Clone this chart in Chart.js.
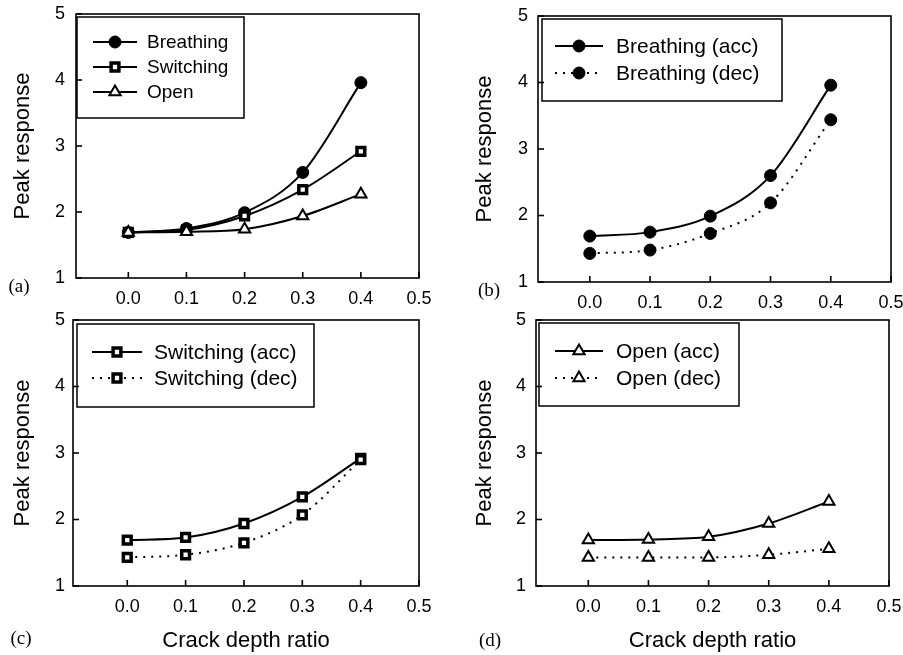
<!DOCTYPE html>
<html><head><meta charset="utf-8">
<script src="https://cdn.jsdelivr.net/npm/chart.js@4"></script>
<style>
html,body{margin:0;padding:0;background:#fff;}
#wrap{position:relative;width:903px;height:655px;overflow:hidden;background:#fff;}
canvas{position:absolute;}
</style></head><body><div id="wrap">
<canvas id="ca"></canvas><canvas id="cb"></canvas><canvas id="cc"></canvas><canvas id="cd"></canvas>
</div>
<script>
// ---- data ----
const crackRatio   = [0.0, 0.1, 0.2, 0.3, 0.4];
const xTickValues  = [0.0, 0.1, 0.2, 0.3, 0.4, 0.5];
const yTickValues  = [1, 2, 3, 4, 5];
const breathingAcc = [1.69, 1.75, 1.99, 2.60, 3.96];
const switchingAcc = [1.69, 1.73, 1.94, 2.34, 2.92];
const openAcc      = [1.69, 1.70, 1.74, 1.94, 2.27];
const breathingDec = [1.43, 1.48, 1.73, 2.19, 3.44];
const switchingDec = [1.43, 1.47, 1.65, 2.07, 2.90];
const openDec      = [1.43, 1.43, 1.43, 1.47, 1.56];
const xAxisTitle = 'Crack depth ratio';
const yAxisTitle = 'Peak response';

const SANS = '"Liberation Sans", Arial, sans-serif';
const SERIF = '"Liberation Serif", "Times New Roman", serif';

const markerStyles = {
  circle:   {pointStyle:'circle',   radius:6,   borderWidth:1,   bg:'#000'},
  rect:     {pointStyle:'rect',     radius:5.5, borderWidth:3.5, bg:'#fff'},
  triangle: {pointStyle:'triangle', radius:6.5, borderWidth:2,   bg:'#fff'}
};

const panels = [
  {id:'ca', label:'(a)', cx:0, cy:-15, cw:451, ch:330, plot:[76,14,419,278], xMin:-0.09, xTitle:false, yTitleX:23, yPad:11,
   legend:{box:[77,17,244,118], rows:[42,67,92], sample:[93,137], textX:147, font:19}, labelPos:[19,287],
   series:[{name:'Breathing', data:breathingAcc, m:'circle', dash:false},
           {name:'Switching', data:switchingAcc, m:'rect', dash:false},
           {name:'Open', data:openAcc, m:'triangle', dash:false}]},
  {id:'cb', label:'(b)', cx:451, cy:-15, cw:470, ch:330, plot:[538,16,891,282], xMin:-0.086, xTitle:false, yTitleX:485, yPad:10,
   legend:{box:[542,19,782,101], rows:[46,73], sample:[555,603], textX:616, font:21}, labelPos:[489,291],
   series:[{name:'Breathing (acc)', data:breathingAcc, m:'circle', dash:false},
           {name:'Breathing (dec)', data:breathingDec, m:'circle', dash:true}]},
  {id:'cc', label:'(c)', cx:0, cy:288, cw:451, ch:367, plot:[73,320,419,586], xMin:-0.093, xTitle:true, yTitleX:23, yPad:8,
   legend:{box:[77,324,314,407], rows:[352,378], sample:[92,142], textX:154, font:21}, labelPos:[21,639],
   series:[{name:'Switching (acc)', data:switchingAcc, m:'rect', dash:false},
           {name:'Switching (dec)', data:switchingDec, m:'rect', dash:true}]},
  {id:'cd', label:'(d)', cx:451, cy:288, cw:470, ch:367, plot:[536,320,889,586], xMin:-0.087, xTitle:true, yTitleX:485, yPad:10,
   legend:{box:[539,323,739,406], rows:[351,378], sample:[555,603], textX:616, font:21}, labelPos:[490,641],
   series:[{name:'Open (acc)', data:openAcc, m:'triangle', dash:false},
           {name:'Open (dec)', data:openDec, m:'triangle', dash:true}]}
];

const DASH = [2,6];

function drawMarker(ctx, m, x, y){
  const s = markerStyles[m];
  ctx.save();
  ctx.fillStyle = s.bg; ctx.strokeStyle = '#000'; ctx.lineWidth = s.borderWidth; ctx.setLineDash([]);
  Chart.helpers.drawPoint(ctx, {pointStyle:s.pointStyle, radius:s.radius, borderWidth:s.borderWidth, rotation:0}, x, y);
  ctx.restore();
}

const decor = {
  id:'decor',
  afterDraw(chart, args, opts){
    const p = opts.panel, ctx = chart.ctx, a = chart.chartArea;
    const xs = chart.scales.x, ys = chart.scales.y;
    ctx.save();
    ctx.strokeStyle = '#000'; ctx.lineWidth = 1.6; ctx.setLineDash([]);
    ctx.strokeRect(a.left, a.top, a.right - a.left, a.bottom - a.top);
    yTickValues.forEach(v => { const y = ys.getPixelForValue(v); ctx.beginPath(); ctx.moveTo(a.left, y); ctx.lineTo(a.left + 6, y); ctx.stroke(); });
    xTickValues.forEach(v => { const x = xs.getPixelForValue(v); ctx.beginPath(); ctx.moveTo(x, a.bottom); ctx.lineTo(x, a.bottom - 6); ctx.stroke(); });
    // legend
    const L = p.legend, ox = p.cx, oy = p.cy;
    ctx.lineWidth = 1.5;
    ctx.strokeRect(L.box[0]-ox, L.box[1]-oy, L.box[2]-L.box[0], L.box[3]-L.box[1]);
    ctx.font = L.font + 'px ' + SANS; ctx.fillStyle = '#000'; ctx.textBaseline = 'middle'; ctx.textAlign = 'left';
    p.series.forEach((s, i) => {
      const y = L.rows[i] - oy, x1 = L.sample[0] - ox, x2 = L.sample[1] - ox;
      ctx.save(); ctx.lineWidth = 2; ctx.setLineDash(s.dash ? DASH : []);
      ctx.beginPath(); ctx.moveTo(x1, y); ctx.lineTo(x2, y); ctx.stroke(); ctx.restore();
      drawMarker(ctx, s.m, (x1 + x2) / 2, y);
      ctx.fillText(s.name, L.textX - ox, y + 1);
    });
    // panel label
    ctx.font = '19px ' + SERIF; ctx.textAlign = 'center';
    ctx.fillText(p.label, p.labelPos[0] - ox, p.labelPos[1] - oy);
    ctx.restore();
  }
};

panels.forEach(p => {
  const cv = document.getElementById(p.id);
  cv.width = p.cw; cv.height = p.ch;
  cv.style.left = p.cx + 'px'; cv.style.top = p.cy + 'px';
  cv.style.width = p.cw + 'px'; cv.style.height = p.ch + 'px';
  const plotL = p.plot[0] - p.cx, plotT = p.plot[1] - p.cy, plotR = p.plot[2] - p.cx, plotB = p.plot[3] - p.cy;
  const st = {padTop: plotT, padRight: p.cw - plotR, yW: plotL, xH: p.ch - plotB};
  const n = p.series.length;
  const datasets = p.series.map((s, i) => {
    const ms = markerStyles[s.m];
    return {
      label: s.name, order: n - i,
      data: crackRatio.map((x, j) => ({x: x, y: s.data[j]})),
      borderColor: '#000', borderWidth: 2, borderDash: s.dash ? DASH : [],
      tension: 0.4, cubicInterpolationMode: 'monotone',
      pointStyle: ms.pointStyle, pointRadius: ms.radius, pointBorderWidth: ms.borderWidth,
      pointBackgroundColor: ms.bg, pointBorderColor: '#000', pointHoverRadius: ms.radius,
      fill: false, clip: false
    };
  });
  const chart = new Chart(cv, {
    type: 'line',
    data: {datasets},
    plugins: [decor],
    options: {
      responsive: false, animation: false, devicePixelRatio: 1,
      layout: {padding: {top: st.padTop, right: st.padRight, left: 0, bottom: 0}},
      plugins: {legend: {display: false}, tooltip: {enabled: false}, decor: {panel: p}},
      scales: {
        x: {
          type: 'linear', min: p.xMin, max: 0.5,
          afterBuildTicks: sc => { sc.ticks = xTickValues.map(v => ({value: v})); },
          afterFit: sc => { sc.height = st.xH; },
          grid: {display: false, drawTicks: false}, border: {display: false},
          ticks: {padding: 10, color: '#000', font: {family: SANS, size: 18}, maxRotation: 0, autoSkip: false,
                  callback: v => Number(v).toFixed(1)},
          title: {display: p.xTitle, text: xAxisTitle, color: '#000', font: {family: SANS, size: 22, lineHeight: 1.2}, padding: {top: 0, bottom: 1}}
        },
        y: {
          type: 'linear', min: 1, max: 5,
          afterBuildTicks: sc => { sc.ticks = yTickValues.map(v => ({value: v})); },
          afterFit: sc => { sc.width = st.yW; },
          grid: {display: false, drawTicks: false}, border: {display: false},
          ticks: {padding: p.yPad, color: '#000', font: {family: SANS, size: 18}, callback: v => String(v)},
          title: {display: true, text: yAxisTitle, color: '#000', font: {family: SANS, size: 22, lineHeight: 1.2},
                  padding: {top: (p.yTitleX - p.cx) - 13.2, bottom: 0}}
        }
      }
    }
  });
  // fine-tune the layout so the plot area lands where the reference has it
  for (let k = 0; k < 4; k++) {
    const a = chart.chartArea;
    const dT = a.top - plotT, dR = plotR - a.right, dL = a.left - plotL, dB = plotB - a.bottom;
    if (Math.abs(dT) < 0.5 && Math.abs(dR) < 0.5 && Math.abs(dL) < 0.5 && Math.abs(dB) < 0.5) break;
    st.padTop = Math.max(0, st.padTop - dT);
    st.padRight = Math.max(0, st.padRight - dR);
    st.yW -= dL; st.xH -= dB;
    chart.options.layout.padding = {top: st.padTop, right: st.padRight, left: 0, bottom: 0};
    chart.update();
  }
});
</script>
</body></html>
